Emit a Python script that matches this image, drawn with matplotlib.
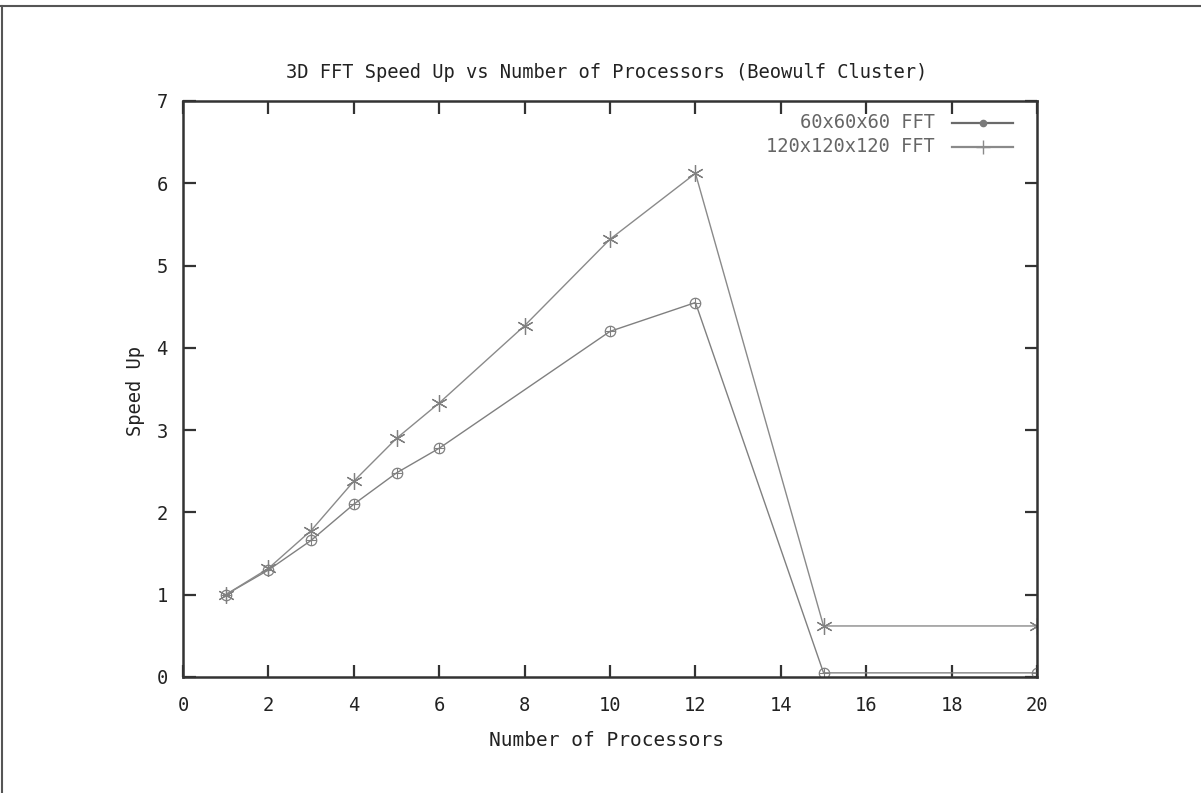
import matplotlib
matplotlib.use("Agg")
import matplotlib.pyplot as plt
from matplotlib.lines import Line2D

# Data
procs_60 = [1, 2, 3, 4, 5, 6, 10, 12, 15, 20]
speed_60 = [1.0, 1.30, 1.66, 2.10, 2.48, 2.78, 4.20, 4.55, 0.05, 0.05]
procs_120 = [1, 2, 3, 4, 5, 6, 8, 10, 12, 15, 20]
speed_120 = [1.0, 1.32, 1.78, 2.38, 2.90, 3.33, 4.27, 5.32, 6.12, 0.62, 0.62]
labels = ["60x60x60 FFT", "120x120x120 FFT"]
x_ticks = [0, 2, 4, 6, 8, 10, 12, 14, 16, 18, 20]
y_ticks = [0, 1, 2, 3, 4, 5, 6, 7]

plt.rcParams['font.family'] = ['DejaVu Sans Mono']
FS = 13.5
TXT = '#222222'
LC = '#808080'

fig = plt.figure(figsize=(12.01, 7.93), dpi=100)
fig.patch.set_facecolor('white')
ax = fig.add_axes([0.1524, 0.1463, 0.7111, 0.7264])

ax.plot(procs_60, speed_60, color=LC, lw=1.0, marker='o', ms=7.5,
        mfc='none', mec=LC, mew=0.9)
ax.plot(procs_60, speed_60, color=LC, lw=0, marker='+', ms=7.5, mew=0.8)
ax.plot(procs_120, speed_120, color='#8a8a8a', lw=1.0, marker=(6, 2, 0), ms=12,
        mec='#808080', mew=0.9)

ax.set_xlim(0, 20)
ax.set_ylim(0, 7)
ax.set_xticks(x_ticks)
ax.set_yticks(y_ticks)
ax.tick_params(axis='both', direction='in', length=9, width=1.6, color='#333333',
               top=True, right=True, labelsize=FS, labelcolor=TXT)
ax.tick_params(axis='x', pad=14)
ax.tick_params(axis='y', pad=11)
for s in ax.spines.values():
    s.set_linewidth(1.8)
    s.set_color('#333333')

fig.text(0.505, 0.908, "3D FFT Speed Up vs Number of Processors (Beowulf Cluster)",
         ha='center', va='center', fontsize=FS, color=TXT)
fig.text(0.505, 0.0668, "Number of Processors", ha='center', va='center',
         fontsize=14, color=TXT)
fig.text(0.113, 0.507, "Speed Up", ha='center', va='center', rotation=90,
         fontsize=FS, color=TXT)

# manual legend (text right-aligned, sample line to the right)
leg_y = [0.9618, 0.9201]
leg_styles = [dict(color='#6a6a6a', lw=1.6, marker='o', ms=4.5, mfc='#7a7a7a', mec='#7a7a7a'),
              dict(color='#8a8a8a', lw=1.6, marker='+', ms=10, mew=1.0)]
for lab, yy, st in zip(labels, leg_y, leg_styles):
    ax.text(0.8806, yy, lab, transform=ax.transAxes, ha='right', va='center',
            fontsize=FS, color='#666666')
    ax.add_line(Line2D([0.9005, 0.9362, 0.9719], [yy, yy, yy], transform=ax.transAxes,
                       markevery=[1], **st))

# figure border lines (top and left)
fig.add_artist(Line2D([0, 1], [0.9924, 0.9924], transform=fig.transFigure,
                      color='#555555', lw=1.5))
fig.add_artist(Line2D([0.002, 0.002], [0, 0.9924], transform=fig.transFigure,
                      color='#555555', lw=1.5))

fig.savefig("out.png", dpi=100, facecolor='white')
